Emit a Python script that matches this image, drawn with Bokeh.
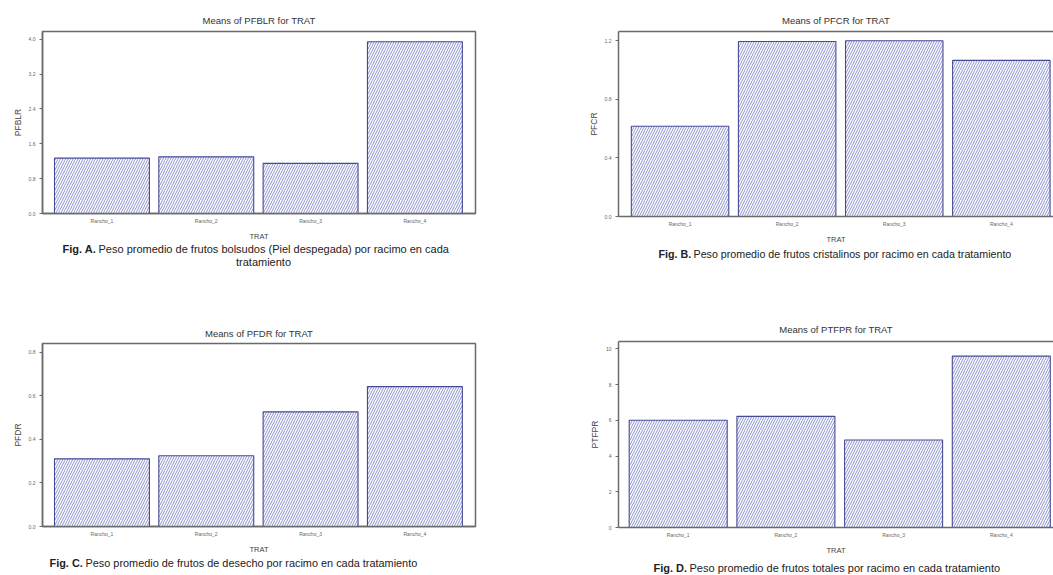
from bokeh.plotting import figure
from bokeh.layouts import row, column
from bokeh.models import Range1d, FixedTicker, LinearAxis, Label, CustomJSTickFormatter, NumeralTickFormatter
from bokeh.embed import file_html
from bokeh.resources import INLINE

# ---------------- data ----------------
categories = ["Rancho_1", "Rancho_2", "Rancho_3", "Rancho_4"]
pfblr = [1.27, 1.30, 1.15, 3.94]
pfcr = [0.616, 1.194, 1.199, 1.065]
pfdr = [0.311, 0.325, 0.527, 0.643]
ptfpr = [6.00, 6.22, 4.90, 9.59]

ticks_a = [0.0, 0.8, 1.6, 2.4, 3.2, 4.0]
ticks_b = [0.0, 0.4, 0.8, 1.2]
ticks_c = [0.0, 0.2, 0.4, 0.6, 0.8]
ticks_d = [0, 2, 4, 6, 8, 10]

titles = ["Means of PFBLR for TRAT", "Means of PFCR for TRAT",
          "Means of PFDR for TRAT", "Means of PTFPR for TRAT"]
fig_tags = ["Fig. A.", "Fig. B.", "Fig. C.", "Fig. D."]
captions = ["Peso promedio de frutos bolsudos (Piel despegada) por racimo en cada",
            "Peso promedio de frutos cristalinos por racimo en cada tratamiento",
            "Peso promedio de frutos de desecho por racimo en cada tratamiento",
            "Peso promedio de frutos totales por racimo en cada tratamiento"]
caption_a_line2 = "tratamiento"

FONT = "Liberation Sans"
FRAME = "#6a6a6a"
BAR_LINE = "#464a96"
HATCH = "#7f85c6"


def make_panel(values, yname, yticks, yfmt, ymax, xr, w, h, borders, closed, title, tstand, toff):
    left, right, top, bottom = borders
    p = figure(width=w, height=h, output_backend="svg", toolbar_location=None,
               x_range=Range1d(*xr), y_range=Range1d(0, ymax),
               min_border_left=left, min_border_right=right,
               min_border_top=top, min_border_bottom=bottom)
    p.background_fill_color = "white"
    p.border_fill_color = "white"
    p.grid.visible = False
    p.title.text = title
    p.title.align = "center"
    p.title.offset = toff
    p.title.text_font = FONT
    p.title.text_font_size = "9.5px"
    p.title.text_font_style = "normal"
    p.title.text_color = "#333333"
    p.title.standoff = tstand
    if closed:
        p.outline_line_color = FRAME
        p.outline_line_width = 1.5
    else:
        p.outline_line_color = None
        top_ax = LinearAxis(ticker=FixedTicker(ticks=[]), axis_line_color=FRAME,
                            axis_line_width=1.5, major_tick_line_color=None,
                            minor_tick_line_color=None, major_tick_out=0, major_tick_in=0,
                            major_label_standoff=0, major_label_text_font_size="0px")
        p.add_layout(top_ax, "above")

    xs = [i + 1 for i in range(len(categories))]
    p.vbar(x=xs, top=values, bottom=0, width=0.91, fill_color="white",
           line_color=BAR_LINE, line_width=1.1, hatch_pattern="/",
           hatch_color=HATCH, hatch_scale=5.0, hatch_weight=0.9)

    xa = p.below[0]
    xa.axis_label = "TRAT"
    xa.ticker = FixedTicker(ticks=xs)
    xa.formatter = CustomJSTickFormatter(args=dict(labels=categories),
                                         code="return labels[Math.round(tick) - 1];")
    xa.axis_line_color = FRAME
    xa.axis_line_width = 1.5
    xa.major_tick_line_color = None
    xa.minor_tick_line_color = None
    xa.major_tick_out = 0
    xa.major_tick_in = 0
    xa.major_label_standoff = 4
    xa.major_label_text_font_size = "5px"
    xa.major_label_text_color = "#666666"
    xa.major_label_text_font = FONT
    xa.axis_label_standoff = 5
    xa.axis_label_text_font_size = "7.5px"
    xa.axis_label_text_font_style = "normal"
    xa.axis_label_text_color = "#444444"
    xa.axis_label_text_font = FONT

    ya = p.left[0]
    ya.axis_label = yname
    ya.ticker = FixedTicker(ticks=yticks)
    ya.formatter = NumeralTickFormatter(format=yfmt)
    ya.axis_line_color = FRAME
    ya.axis_line_width = 1.5
    ya.major_tick_in = 0
    ya.major_tick_out = 3
    ya.major_tick_line_color = FRAME
    ya.minor_tick_line_color = None
    ya.major_label_standoff = 4
    ya.major_label_text_font_size = "5px"
    ya.major_label_text_color = "#666666"
    ya.major_label_text_font = FONT
    ya.axis_label_standoff = 3
    ya.axis_label_text_font_size = "8.5px"
    ya.axis_label_text_font_style = "normal"
    ya.axis_label_text_color = "#444444"
    ya.axis_label_text_font = FONT
    return p


def caption_fig(w, h, left, right):
    # frame aligned with the panels of the same column; data x == pixel x in the column
    c = figure(width=w, height=h, output_backend="svg", toolbar_location=None,
               x_range=Range1d(left, w - right), y_range=Range1d(0, h),
               min_border_left=left, min_border_right=right,
               min_border_top=0, min_border_bottom=0)
    c.axis.visible = False
    c.grid.visible = False
    c.outline_line_color = None
    c.background_fill_color = "white"
    c.border_fill_color = "white"
    return c


def txt(p, x, y, text, size, bold=False, color="#222222", align="left"):
    p.add_layout(Label(x=x, y=y, text=text,
                       text_font=FONT, text_font_size=size,
                       text_font_style="bold" if bold else "normal",
                       text_color=color, text_align=align, text_baseline="middle"))


# left column: x 0..530 ; right column: x 530..1053
pA = make_panel(pfblr, "PFBLR", ticks_a, "0.0", 4.175, (0.430, 4.581), 530, 243, (42, 55, 31, 30), True, titles[0], 12, 0)
pB = make_panel(pfcr, "PFCR", ticks_b, "0.0", 1.262, (0.4253, 4.487), 523, 246, (88, 0, 31, 29), False, titles[1], 12, 3)
pC = make_panel(pfdr, "PFDR", ticks_c, "0.0", 0.841, (0.430, 4.581), 530, 261, (42, 55, 48, 29), True, titles[2], 10, 0)
pD = make_panel(ptfpr, "PTFPR", ticks_d, "0", 10.41, (0.4457, 4.4847), 523, 263, (88, 0, 46, 31), False, titles[3], 13, 4)

capA = caption_fig(530, 52, 42, 55)
capB = caption_fig(523, 49, 88, 0)
capC = caption_fig(530, 19, 42, 55)
capD = caption_fig(523, 17, 88, 0)

txt(capA, 62, 47, fig_tags[0], "11px", bold=True)
txt(capA, 98, 47, captions[0], "11px")
txt(capA, 263, 34, caption_a_line2, "11px", align="center")

txt(capB, 128, 42, fig_tags[1], "10.7px", bold=True)
txt(capB, 163, 42, captions[1], "10.7px")

txt(capC, 49, 13, fig_tags[2], "10.9px", bold=True)
txt(capC, 85, 13, captions[2], "10.9px")

txt(capD, 123, 8, fig_tags[3], "11px", bold=True)
txt(capD, 159, 8, captions[3], "11px")

layout = row(column(pA, capA, pC, capC), column(pB, capB, pD, capD))

open("out.html", "w").write(file_html(layout, INLINE))
